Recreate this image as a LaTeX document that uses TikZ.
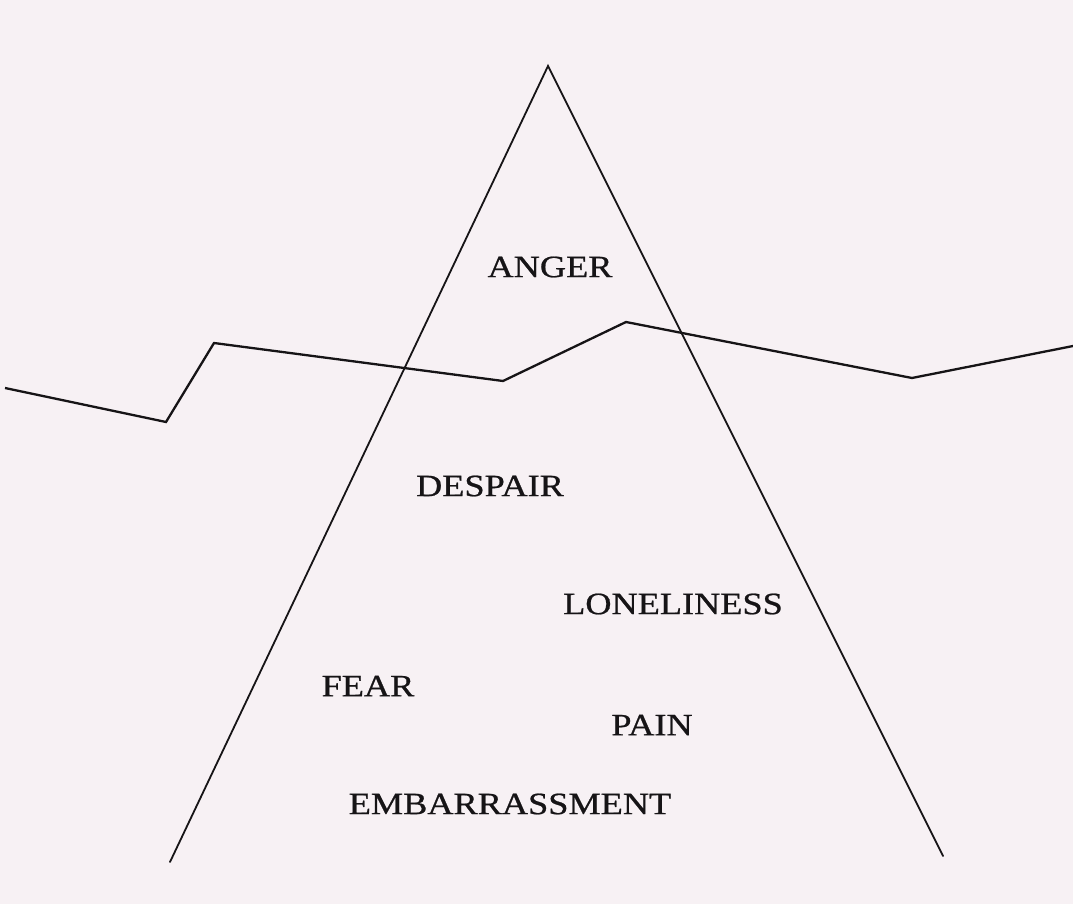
\documentclass[tikz,border=0pt]{standalone}
\usepackage{fontspec}
\setmainfont{Liberation Serif}
\newfontfamily\scanfont{Liberation Serif}[FakeBold=0.7]
\definecolor{paper}{RGB}{247,241,244}
\definecolor{ink}{RGB}{22,20,22}
\newcommand{\wide}[1]{\scalebox{1.17}[1]{#1}}
\begin{document}
\begin{tikzpicture}[x=1pt,y=-1pt,
  word/.style={inner sep=0pt,anchor=center,text=ink,font=\scanfont\fontsize{31}{31}\selectfont},
  berg/.style={draw=ink,line width=1.8pt,line cap=round},
  water/.style={draw=ink,line width=2.3pt,line join=miter}]
\fill[paper] (0,0) rectangle (1073,904);
\useasboundingbox (0,0) rectangle (1073,904);
% iceberg
\coordinate (apex) at (548,66);
\coordinate (bl) at (170,862);
\coordinate (br) at (943,856);
\draw[berg] (bl) -- (apex) -- (br);
% waterline
\coordinate (w0) at (5,388);
\coordinate (w1) at (166,422);
\coordinate (w2) at (214,343);
\coordinate (w3) at (503,381);
\coordinate (w4) at (626,322);
\coordinate (w5) at (912,378);
\coordinate (w6) at (1073,346);
\draw[water] (w0) -- (w1) -- (w2) -- (w3) -- (w4) -- (w5) -- (w6);
% labels
\node[word] (anger) at (550,267) {\wide{ANGER}};
\node[word] (despair) at (490,486) {\wide{DESPAIR}};
\node[word] (lone) at (673,604) {\wide{LONELINESS}};
\node[word] (fear) at (368,686) {\wide{FEAR}};
\node[word] (pain) at (652,725) {\wide{PAIN}};
\node[word] (embar) at (510,804) {\wide{EMBARRASSMENT}};
\end{tikzpicture}
\end{document}
